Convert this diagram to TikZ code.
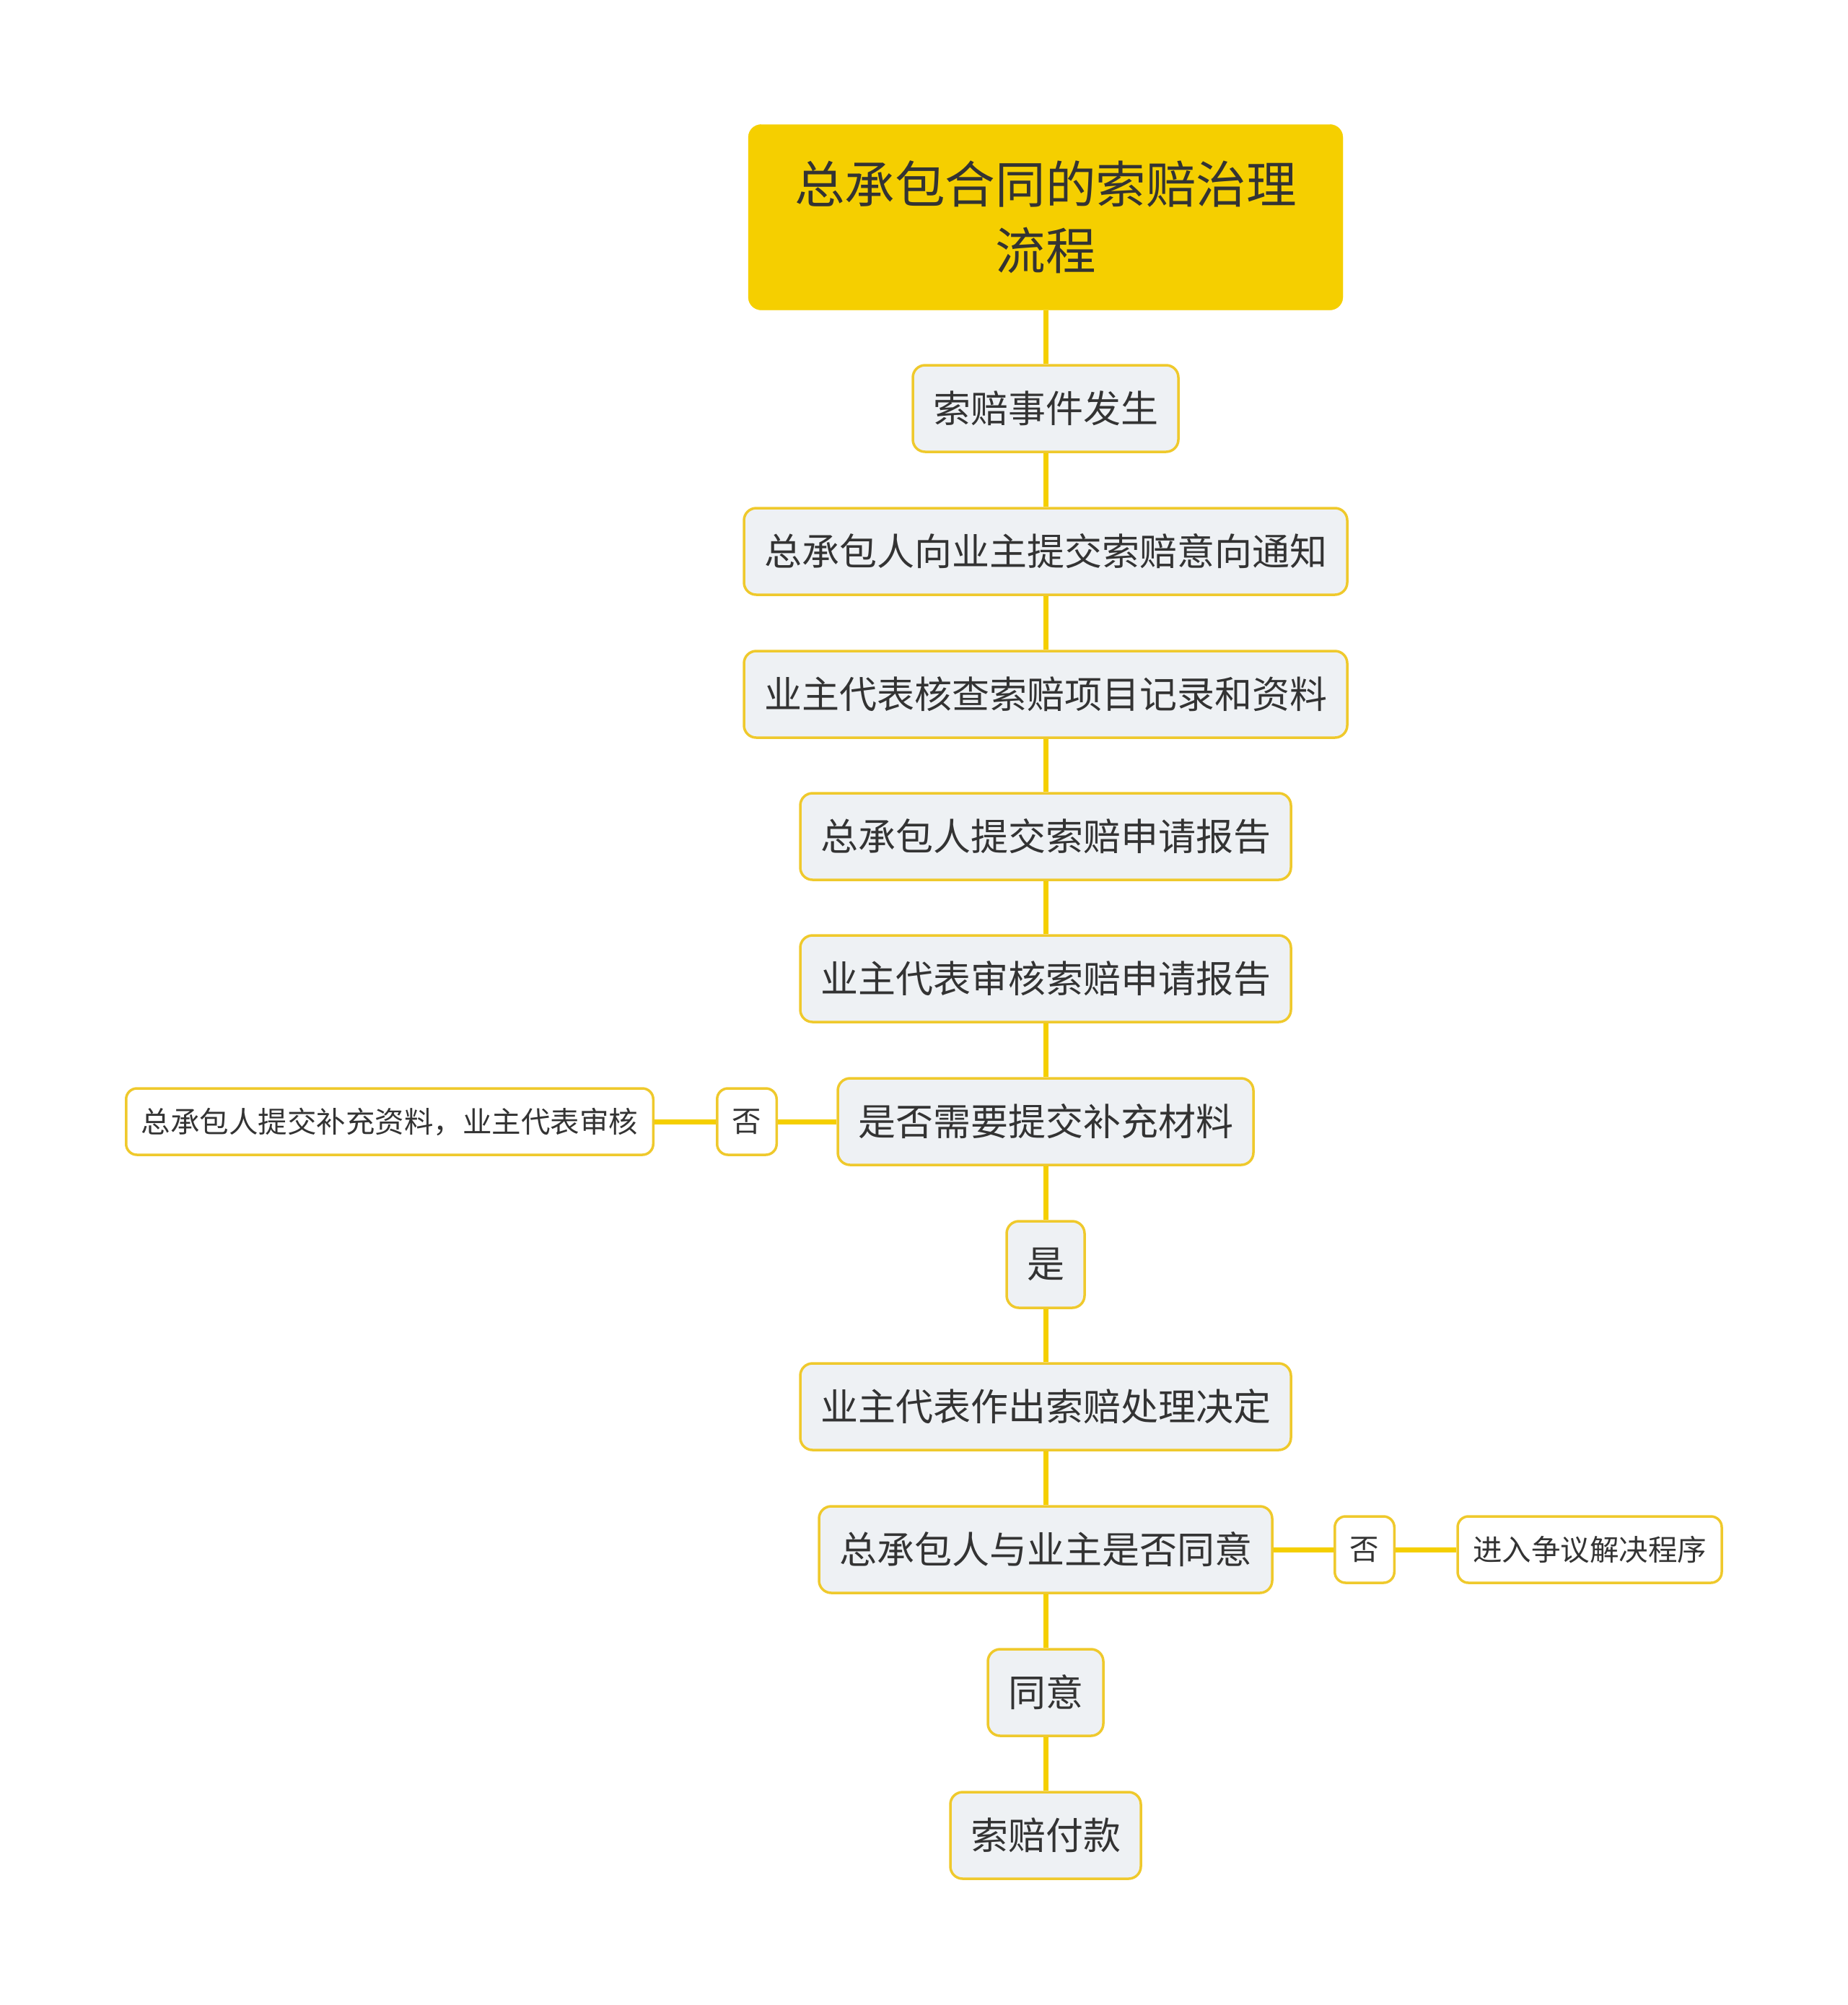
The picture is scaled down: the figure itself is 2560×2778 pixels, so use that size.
\documentclass[tikz,border=0pt]{standalone}
\usepackage{fontspec}
\setmainfont{Noto Sans CJK SC}
\usepackage{xcolor}
\definecolor{rootfill}{HTML}{F5CF00}
\definecolor{edgeline}{HTML}{F5CF00}
\definecolor{boxline}{HTML}{EFC92C}
\definecolor{boxfill}{HTML}{EEF1F4}
\definecolor{inktext}{HTML}{333333}

\begin{document}
\begin{tikzpicture}[
  x=1pt, y=-1pt,
  root/.style={
    fill=rootfill, draw=rootfill, rounded corners=18pt,
    minimum width=824pt, minimum height=257pt, text width=720pt,
    align=center, text=inktext, font=\fontsize{69.6}{92}\selectfont
  },
  stepbox/.style={
    draw=boxline, fill=boxfill, rounded corners=17pt, line width=3.5pt,
    minimum height=120pt, inner xsep=28pt, inner ysep=0pt,
    text=inktext, font=\fontsize{52}{62}\selectfont
  },
  leafbox/.style={
    draw=boxline, fill=white, rounded corners=15pt, line width=3.5pt,
    minimum height=92pt, inner xsep=21pt, inner ysep=0pt,
    text=inktext, font=\fontsize{40.5}{50}\selectfont
  },
  link/.style={
    draw=edgeline, line width=7pt
  }
]
\useasboundingbox (0,0) rectangle (2560,2778);

% main flow
\node[root] (root) at (1449, 301) {总承包合同的索赔治理\\流程};
\node[stepbox] (event) at (1449, 566) {索赔事件发生};
\node[stepbox] (notice) at (1449, 764) {总承包人向业主提交索赔意向通知};
\node[stepbox] (check) at (1449, 962) {业主代表核查索赔项目记录和资料};
\node[stepbox] (report) at (1449, 1159) {总承包人提交索赔申请报告};
\node[stepbox] (review) at (1449, 1356) {业主代表审核索赔申请报告};
\node[stepbox] (need) at (1449, 1554) {是否需要提交补充材料};
\node[stepbox] (yes) at (1449, 1752) {是};
\node[stepbox] (decide) at (1449, 1949) {业主代表作出索赔处理决定};
\node[stepbox] (agree) at (1449, 2147) {总承包人与业主是否同意};
\node[stepbox] (agreed) at (1449, 2345) {同意};
\node[stepbox] (pay) at (1449, 2543) {索赔付款};

% side branches
\node[leafbox] (noleft) at (1035, 1554) {否};
\node[leafbox] (supply) at (540, 1554) {总承包人提交补充资料，业主代表审核};
\node[leafbox] (noright) at (1891, 2147) {否};
\node[leafbox] (dispute) at (2203, 2147) {进入争议解决程序};

% connectors
\draw[link] (root.south) -- (event.north);
\draw[link] (event.south) -- (notice.north);
\draw[link] (notice.south) -- (check.north);
\draw[link] (check.south) -- (report.north);
\draw[link] (report.south) -- (review.north);
\draw[link] (review.south) -- (need.north);
\draw[link] (need.south) -- (yes.north);
\draw[link] (yes.south) -- (decide.north);
\draw[link] (decide.south) -- (agree.north);
\draw[link] (agree.south) -- (agreed.north);
\draw[link] (agreed.south) -- (pay.north);
\draw[link] (need.west) -- (noleft.east);
\draw[link] (noleft.west) -- (supply.east);
\draw[link] (agree.east) -- (noright.west);
\draw[link] (noright.east) -- (dispute.west);

\end{tikzpicture}
\end{document}
